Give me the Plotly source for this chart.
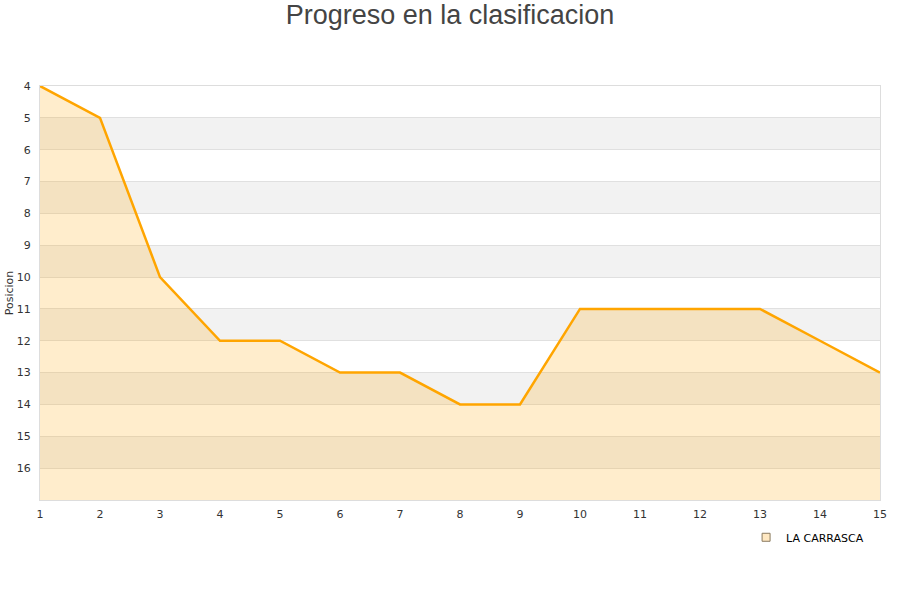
import plotly.graph_objects as go

# Jornada and league position for the team
jornadas = list(range(1, 16))
posiciones = [4, 5, 10, 12, 12, 13, 13, 14, 14, 11, 11, 11, 11, 12, 13]
equipo = "LA CARRASCA"
y_ticks = list(range(4, 17))
y_min, y_max = 4, 17

fig = go.Figure()

# Baseline at the bottom of the axis so the area fills down to it
fig.add_trace(go.Scatter(
    x=jornadas, y=[y_max] * len(jornadas), mode="lines",
    line=dict(width=0, color="rgba(0,0,0,0)"), showlegend=False, hoverinfo="skip",
))
fig.add_trace(go.Scatter(
    x=jornadas, y=posiciones, mode="lines", name=equipo,
    line=dict(color="#ffa500", width=2.5),
    fill="tonexty", fillcolor="rgba(255,165,0,0.2)", showlegend=False,
))
# Legend entry with a square swatch
fig.add_trace(go.Scatter(
    x=[None], y=[None], mode="markers", name=equipo,
    marker=dict(symbol="square", size=8, color="#ffe8c2",
                line=dict(color="#8a7a60", width=1)),
))

# Alternating horizontal bands
shapes = []
for r in range(5, 17, 2):
    shapes.append(dict(type="rect", xref="paper", yref="y", x0=0, x1=1, y0=r, y1=r + 1,
                       fillcolor="#f2f2f2", line=dict(width=0), layer="below"))

fig.update_layout(
    width=900, height=600,
    paper_bgcolor="white", plot_bgcolor="white",
    margin=dict(l=40, r=20, t=86, b=100, autoexpand=False),
    shapes=shapes,
    title=dict(text="Progreso en la clasificacion", x=0.5, xanchor="center",
               y=0.975, yanchor="middle",
               font=dict(family="Liberation Sans, Arial, sans-serif", size=27, color="#444444")),
    font=dict(family="DejaVu Sans, Verdana, sans-serif", size=11, color="#333333"),
    xaxis=dict(range=[1, 15], tickvals=jornadas, showgrid=False, zeroline=False,
               showline=True, linecolor="#dddddd", mirror=True, automargin=False,
               ticks="outside", ticklen=4, tickcolor="rgba(0,0,0,0)",
               tickfont=dict(size=11, color="#333333")),
    yaxis=dict(range=[y_max, y_min], tickvals=y_ticks, showgrid=True, gridcolor="#e0e0e0",
               zeroline=False, showline=True, linecolor="#dddddd", mirror=True, automargin=False,
               ticks="outside", ticklen=6, tickcolor="rgba(0,0,0,0)",
               title=dict(text="Posicion", font=dict(size=11, color="#333333"), standoff=0),
               tickfont=dict(size=11, color="#333333")),
    legend=dict(orientation="h", x=0.987, xanchor="right", y=-0.055, yanchor="top",
                font=dict(size=11, color="#000000"), bgcolor="rgba(0,0,0,0)"),
)

fig.write_html("out.html")
